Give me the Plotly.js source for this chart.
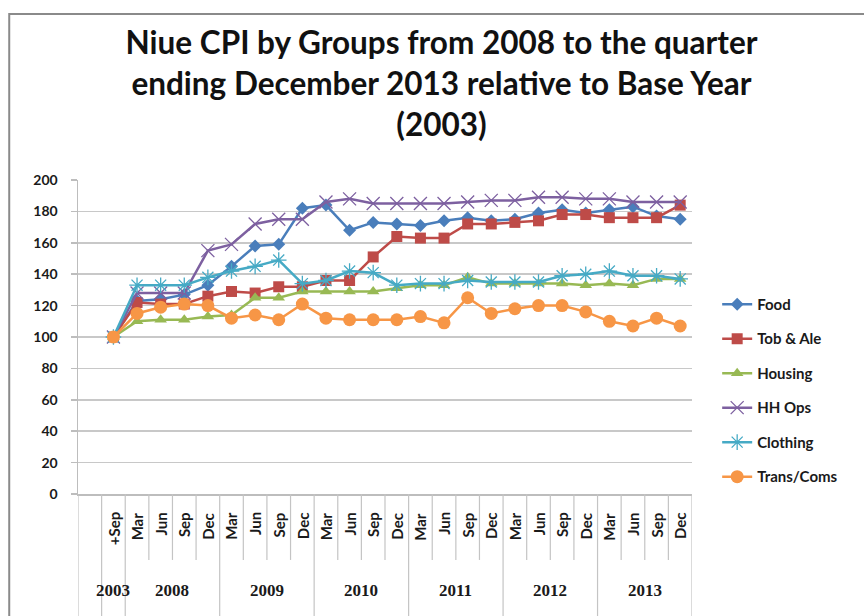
<!DOCTYPE html>
<html>
<head>
<meta charset="utf-8">
<script src="https://cdn.plot.ly/plotly-3.0.1.min.js"></script>
<style>
html,body{margin:0;padding:0;background:#fff;}
#chart{width:864px;height:616px;}
</style>
</head>
<body>
<div id="chart"></div>
<script>
// Category axis: first slot is an empty category, then 2003 Sep, then quarters 2008-2013
var quarters = ["", "+Sep",
  "Mar","Jun","Sep","Dec",
  "Mar","Jun","Sep","Dec",
  "Mar","Jun","Sep","Dec",
  "Mar","Jun","Sep","Dec",
  "Mar","Jun","Sep","Dec",
  "Mar","Jun","Sep","Dec"];
var yearLabels = ["", "2003", "2008", "2009", "2010", "2011", "2012", "2013"];
var yearCounts = [1, 1, 4, 4, 4, 4, 4, 4];

var seriesNames = ["Food", "Tob & Ale", "Housing", "HH Ops", "Clothing", "Trans/Coms"];

var food      = [null, 100, 123, 124, 127, 133, 145, 158, 159, 182, 184, 168, 173, 172, 171, 174, 176, 174, 175, 179, 181, 179, 181, 183, 177, 175];
var tobAle    = [null, 100, 122, 121, 121, 126, 129, 128, 132, 132, 136, 136, 151, 164, 163, 163, 172, 172, 173, 174, 178, 178, 176, 176, 176, 184];
var housing   = [null, 100, 110, 111, 111, 113, 114, 125, 125, 129, 129, 129, 129, 131, 133, 133, 138, 134, 134, 134, 134, 133, 134, 133, 137, 137];
var hhOps     = [null, 100, 128, 128, 128, 155, 159, 172, 175, 175, 186, 188, 185, 185, 185, 185, 186, 187, 187, 189, 189, 188, 188, 186, 186, 186];
var clothing  = [null, 100, 133, 133, 133, 138, 142, 145, 149, 134, 136, 142, 141, 133, 134, 134, 136, 135, 135, 135, 139, 140, 142, 139, 139, 137];
var transComs = [null, 100, 115, 119, 121, 120, 112, 114, 111, 121, 112, 111, 111, 111, 113, 109, 125, 115, 118, 120, 120, 116, 110, 107, 112, 107];

var seriesValues = [food, tobAle, housing, hhOps, clothing, transComs];
var colors = ["#4A7EBB", "#BE4B48", "#98B954", "#7D60A0", "#46AAC5", "#F79646"];
var symbols = ["diamond", "square", "triangle-up", "x-thin-open", "asterisk-open", "circle"];
var sizes = [10, 11, 11, 13, 13, 13];

var FONT = "Lato, 'Open Sans', sans-serif";
var SERIF = "'Liberation Serif', 'DejaVu Serif', serif";
var xIdx = quarters.map(function(_, i){ return i; });

var traces = seriesNames.map(function(name, k){
  var thin = (symbols[k].indexOf("open") >= 0);
  return {
    type: "scatter",
    mode: "lines+markers",
    name: name,
    legendgroup: "g" + k,
    x: xIdx,
    y: seriesValues[k],
    line: {color: colors[k], width: 2.5},
    marker: {
      symbol: symbols[k],
      size: sizes[k],
      color: colors[k],
      line: {color: colors[k], width: thin ? 1.3 : 0}
    },
    hoverinfo: "x+y+name"
  };
});

// Category-axis labels and separators
var annotations = [];
var shapes = [];
quarters.forEach(function(q, i){
  if (q) {
    annotations.push({
      xref: "x", yref: "paper", x: i, y: -0.052,
      text: q, showarrow: false, textangle: -90,
      xanchor: "center", yanchor: "top",
      font: {family: FONT, size: 15, color: "#1a1a1a", weight: "bold"}
    });
  }
});
var yearStarts = [];
var pos = -0.5;
yearCounts.forEach(function(n, g){
  yearStarts.push(pos);
  var center = pos + n / 2;
  if (yearLabels[g]) {
    annotations.push({
      xref: "x", yref: "paper", x: center, y: -0.306,
      text: yearLabels[g], showarrow: false,
      xanchor: "center", yanchor: "middle",
      font: {family: SERIF, size: 17, color: "#1a1a1a", weight: "bold"}
    });
  }
  // inner separators
  for (var j = 1; j < n; j++) {
    shapes.push({type: "line", xref: "x", yref: "paper", x0: pos + j, x1: pos + j, y0: 0, y1: -0.21,
      line: {color: "#c4c4c4", width: 1.2}});
  }
  pos += n;
});
yearStarts.push(pos);
yearStarts.forEach(function(b){
  shapes.push({type: "line", xref: "x", yref: "paper", x0: b, x1: b, y0: 0, y1: -0.42,
    line: {color: "#c4c4c4", width: 1.2}});
});
// outer chart frame
shapes.push({type: "rect", xref: "paper", yref: "paper", x0: -0.112, x1: 1.4, y0: -0.6, y1: 1.529,
  line: {color: "#8a8a8a", width: 2}, fillcolor: "rgba(0,0,0,0)", layer: "below"});

var layout = {
  width: 864, height: 616,
  margin: {l: 78, r: 172, t: 180, b: 122, pad: 0},
  paper_bgcolor: "#ffffff",
  plot_bgcolor: "#ffffff",
  font: {family: FONT, color: "#1a1a1a"},
  title: {
    text: "Niue CPI by Groups from 2008 to the quarter<br>ending December 2013 relative to Base Year<br>(2003)",
    font: {family: FONT, size: 31.5, color: "#111", weight: "bold"},
    xref: "container", x: 0.511, xanchor: "center",
    yref: "container", y: 0.912, yanchor: "top"
  },
  showlegend: true,
  legend: {
    x: 1.041, xanchor: "left", y: 0.33, yanchor: "middle",
    font: {family: FONT, size: 15, color: "#1a1a1a", weight: "bold"},
    tracegroupgap: 12,
    bgcolor: "rgba(0,0,0,0)"
  },
  xaxis: {
    type: "linear",
    range: [-0.5, quarters.length - 0.5],
    showgrid: false, zeroline: false, showticklabels: false,
    showline: true, linecolor: "#bdbdbd", linewidth: 1.5,
    ticks: "", fixedrange: true
  },
  yaxis: {
    range: [0, 200], dtick: 20, tick0: 0,
    showgrid: true, gridcolor: "#c8c8c8", gridwidth: 1.6,
    zeroline: false,
    showline: true, linecolor: "#bdbdbd", linewidth: 1.5,
    ticks: "outside", ticklen: 6, tickcolor: "#bdbdbd", tickwidth: 1.5,
    ticklabelstandoff: 10,
    tickfont: {family: FONT, size: 14, color: "#1a1a1a", weight: "bold"},
    fixedrange: true
  },
  annotations: annotations,
  shapes: shapes
};

Plotly.newPlot("chart", traces, layout, {displayModeBar: false, staticPlot: true});
</script>
</body>
</html>
